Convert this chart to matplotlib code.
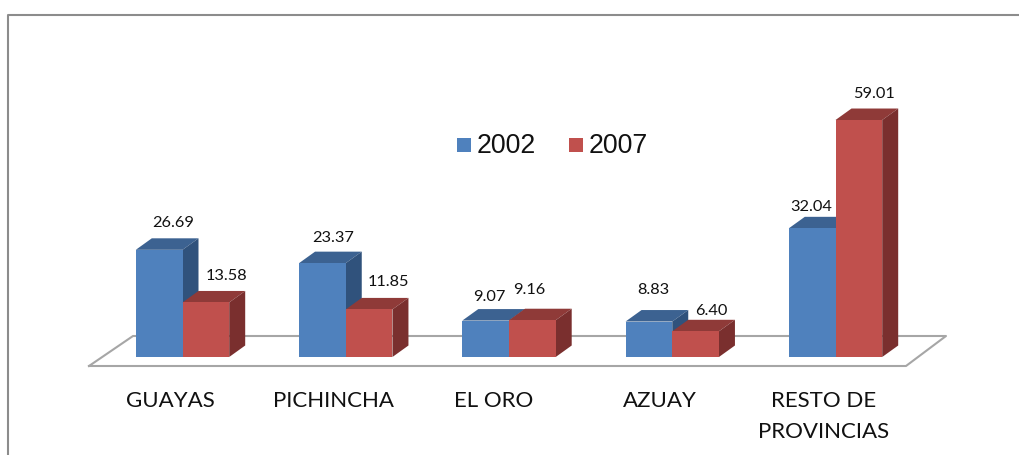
import numpy as np
from matplotlib import pyplot as plt
from matplotlib.lines import Line2D
from matplotlib.patches import Rectangle

categories = ["GUAYAS", "PICHINCHA", "EL ORO", "AZUAY", "RESTO DE\nPROVINCIAS"]
years = ["2002", "2007"]
values_2002 = [26.69, 23.37, 9.07, 8.83, 32.04]
values_2007 = [13.58, 11.85, 9.16, 6.40, 59.01]

# hand placed labels in the original, offsets in pixels from the bar front top centre
offsets_2002 = [(14, 27), (11, 25), (4, 24), (4, 32), (-1, 21)]
offsets_2007 = [(21, 26), (19, 27), (-3, 30), (16, 20), (15, 26)]
name_shift = [-12, -12, -15, -12, -12]

W, H = 1019, 455
fig = plt.figure(figsize=(W / 100, H / 100), dpi=100)
ax = fig.add_axes([0, 0, 1, 1])

# one category = 163.25 px, one unit = 4.016 px
px_x = 163.25
px_y = 4.016
x0 = 182.5
y0 = 357
ax.set_xlim(-x0 / px_x, (W - x0) / px_x)
ax.set_ylim(-(H - y0) / px_y, y0 / px_y)
ax.axis("off")

bw = 46.7 / px_x
dx = 16 / px_x
dy = 11.5 / px_y


def fig_line(xs, ys, lw, color="#8c8c8c", z=0):
    fig.add_artist(Line2D(np.array(xs) / W, 1 - np.array(ys) / H, lw=lw, color=color, zorder=z))


# outer chart border, no right or bottom edge in the crop
fig_line([7.5, 7.5, W], [H, 15, 15], 1.5)
# floor
fig_line([89, 906, 946, 133, 89], [366, 366, 336, 336, 366], 1.5, "#a6a6a6")

xpos = np.arange(len(categories))


def bars3d(x, vals, front, top, side, z):
    ax.bar(x, vals, bw, align="edge", color=front, zorder=z + 1)
    for xi, v in zip(x, vals):
        ax.fill([xi, xi + bw, xi + bw + dx, xi + dx], [v, v, v + dy, v + dy], color=top, lw=0, zorder=z)
        ax.fill([xi + bw, xi + bw + dx, xi + bw + dx, xi + bw], [0, dy, v + dy, v], color=side, lw=0, zorder=z)


for i in xpos:
    bars3d([i - bw], [values_2002[i]], "#4f81bd", "#3c6291", "#30527c", 5 + 2 * i)
    bars3d([i], [values_2007[i]], "#c0504d", "#8f3a38", "#7a2f2e", 6 + 2 * i)

label_font = {"family": "Lato", "fontsize": 11.8, "color": "#111111", "ha": "center", "va": "center", "zorder": 40}
for i in xpos:
    ax.annotate(f"{values_2002[i]:.2f}", (i - bw / 2, values_2002[i]), xytext=offsets_2002[i],
                textcoords="offset pixels", **label_font)
    ax.annotate(f"{values_2007[i]:.2f}", (i + bw / 2, values_2007[i]), xytext=offsets_2007[i],
                textcoords="offset pixels", **label_font)

for i, name in zip(xpos, categories):
    ax.annotate(name, (i, 0), xytext=(name_shift[i], -34), textcoords="offset pixels", ha="center", va="top",
                family="Lato", fontsize=16, color="#111111", linespacing=1.7, zorder=40)

# legend
legend_x = [457, 569]
for lx, yr, c in zip(legend_x, years, ["#4f81bd", "#c0504d"]):
    fig.add_artist(Rectangle((lx / W, 1 - 152 / H), 14 / W, 14 / H, color=c, lw=0, transform=fig.transFigure))
    fig.text((lx + 20) / W, 1 - 146 / H, yr, family="Liberation Sans", fontsize=19.2, color="#111111",
             ha="left", va="center")

fig.savefig("out.png", dpi=100)
